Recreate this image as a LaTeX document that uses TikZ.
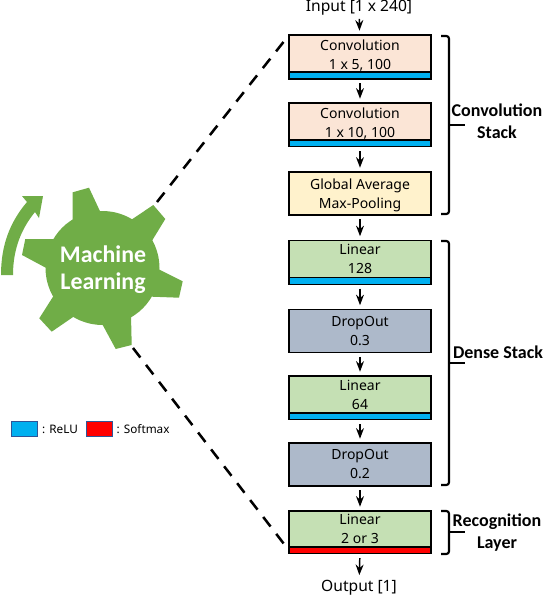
\documentclass[tikz,border=0pt]{standalone}
\usepackage{fontspec}
\setmainfont{Noto Sans}
\newfontfamily\labelfont{Carlito}
\usetikzlibrary{arrows.meta,positioning}
\definecolor{convcol}{HTML}{FBE5D6}
\definecolor{poolcol}{HTML}{FFF2CC}
\definecolor{lincol}{HTML}{C5E0B4}
\definecolor{dropcol}{HTML}{ADB9CA}
\definecolor{relucol}{HTML}{00B0F0}
\definecolor{gearcol}{HTML}{70AD47}
\definecolor{legcol}{HTML}{2F5597}
\newcommand{\lowrow}{\rule{0pt}{10.5pt}}
\tikzset{
layerbox/.style={draw,line width=.8pt,minimum width=106.5pt,inner sep=0pt,outer sep=0pt,align=center,font=\fontsize{10.5}{14.25}\selectfont},
relubar/.style={draw,line width=.8pt,fill=relucol,minimum width=106.5pt,minimum height=5.2pt,inner sep=0pt,outer sep=0pt},
softbar/.style={relubar,fill=red},
flow/.style={-{Stealth},line width=1.1pt,shorten >=3.2pt,shorten <=3.2pt},
cutline/.style={line width=1.9pt,dash pattern=on 9pt off 7pt},
stackbrace/.style={line width=1.6pt,rounded corners=2pt},
stacklabel/.style={font=\labelfont\bfseries\fontsize{13.5}{16.5}\selectfont,align=center,inner sep=0pt},
legbox/.style={draw=legcol,line width=.7pt,minimum width=19.5pt,minimum height=11.5pt,inner sep=0pt},
legtext/.style={font=\fontsize{8.8}{10}\selectfont,inner sep=0pt,anchor=west}
}
\begin{document}
\begin{tikzpicture}[x=.75pt,y=-.75pt]
\useasboundingbox(0,0)rectangle(544,596);
% layers
\node[inner sep=0pt,font=\fontsize{11.7}{14}\selectfont,text height=9pt,text depth=2pt](input)at(359,7){Input [1 x 240]};
\node[layerbox,fill=convcol,minimum height=27.75pt,line width=1.2pt](conv1)at(360,53.5){\lowrow Convolution\\1 x 5, 100};
\node[relubar,below=0pt of conv1,line width=1.2pt](bar1){};
\node[layerbox,fill=convcol,minimum height=27.75pt](conv2)at(360,121.5){\lowrow Convolution\\1 x 10, 100};
\node[relubar,below=0pt of conv2](bar2){};
\node[layerbox,fill=poolcol,minimum height=32.25pt](pool)at(360,193.5){\lowrow Global Average\\Max-Pooling};
\node[layerbox,fill=lincol,minimum height=27.75pt](lin1)at(360,259){Linear\\128};
\node[relubar,below=0pt of lin1](bar3){};
\node[layerbox,fill=dropcol,minimum height=32.25pt](drop1)at(360,331){DropOut\\0.3};
\node[layerbox,fill=lincol,minimum height=27.75pt](lin2)at(360,394.5){Linear\\64};
\node[relubar,below=0pt of lin2](bar4){};
\node[layerbox,fill=dropcol,minimum height=32.25pt](drop2)at(360,464.5){DropOut\\0.2};
\node[layerbox,fill=lincol,minimum height=27pt](lin3)at(360,529){Linear\\2 or 3};
\node[softbar,below=0pt of lin3](bar5){};
\node[inner sep=0pt,font=\fontsize{11.7}{14}\selectfont,text height=9pt,text depth=2pt](output)at(359,587){Output [1]};
\draw[flow](input)--(conv1);\draw[flow](bar1)--(conv2);\draw[flow](bar2)--(pool);\draw[flow](pool)--(lin1);
\draw[flow](bar3)--(drop1);\draw[flow](drop1)--(lin2);\draw[flow](bar4)--(drop2);\draw[flow](drop2)--(lin3);\draw[flow](bar5)--(output);
% braces
\draw[stackbrace](441,36)--(449,36)--(449,214)--(441,214);\draw[line width=1.6pt](449,125)--(465,125);
\draw[stackbrace](441,241)--(449,241)--(449,485)--(441,485);\draw[line width=1.6pt](449,363)--(465,363);
\draw[stackbrace](441,511)--(449,511)--(449,554)--(441,554);\draw[line width=1.6pt](449,532)--(465,532);
\node[stacklabel](convlabel)at(497,121){Convolution\\Stack};
\node[stacklabel](denselabel)at(498,352){Dense Stack};
\node[stacklabel](recoglabel)at(497,533){Recognition\\Layer};
% gear
\fill[gearcol](102.5,268)circle[radius=57];
\fill[gearcol](72.7,222)--(72.7,192.3)--(89,187.7)--(101.3,214)--cycle;
\fill[gearcol](128,222)--(153.3,205)--(165.3,219)--(150,244)--cycle;
\fill[gearcol](156,268)--(182.7,281.3)--(179,297.7)--(152,296.7)--cycle;
\fill[gearcol](131,315)--(131.7,345)--(115.7,349)--(100,320)--cycle;
\fill[gearcol](76,315)--(51.7,331.7)--(39.3,318.3)--(56,292)--cycle;
\fill[gearcol](50,270)--(22,255)--(25.3,239)--(58,239)--cycle;
\fill[gearcol](1,275)..controls(1,245)and(10,222)..(27,202)--(22,196)--(43,196)--(39,218)--(35,212)..controls(22,228)and(13,248)..(13,275)--cycle;
\node[font=\labelfont\bfseries\fontsize{17.9}{20.25}\selectfont,text=white,align=center,inner sep=0pt](gear)at(103,269.5){Machine\\Learning};
\coordinate(gearup)at(157,202);\coordinate(geardown)at(133,348);
\draw[cutline](gearup)--(conv1.north west);
\draw[cutline,shorten >=3pt](geardown)--(bar5.west);
% legend
\node[legbox,fill=relucol](relukey)at(24.5,429){};
\node[legbox,fill=red](softkey)at(99,429){};
\node[legtext,right=3pt of relukey](relutext){: ReLU};
\node[legtext,right=3pt of softkey](softtext){: Softmax};
\end{tikzpicture}
\end{document}
